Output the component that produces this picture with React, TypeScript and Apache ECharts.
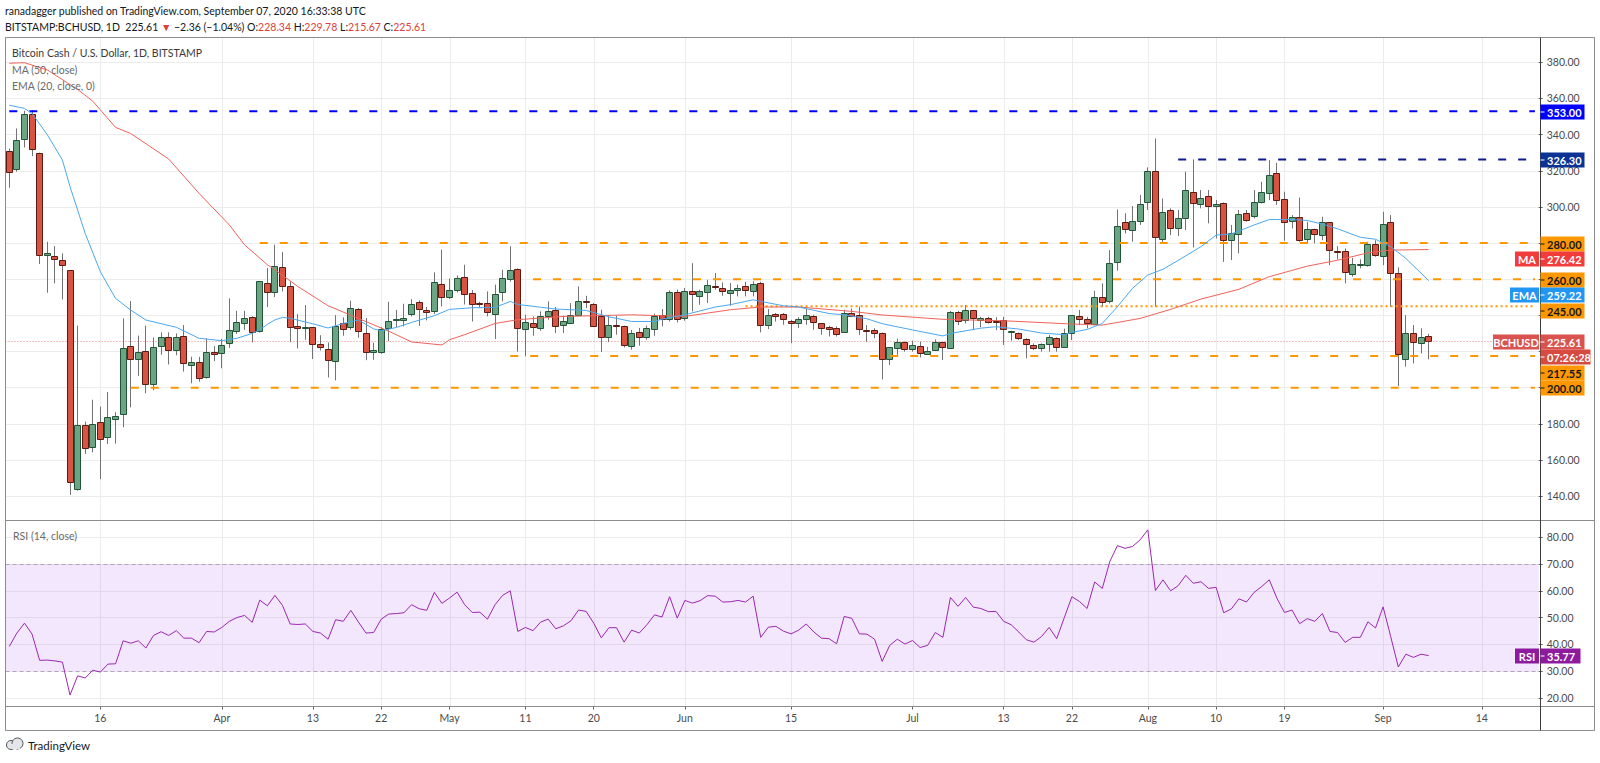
import React, { useEffect, useRef } from 'react';
import * as echarts from 'echarts';

// ---------- DATA ----------
const START_DATE = '2020-03-04';
const CATEGORY_COUNT = 202; // Mar 4 .. Sep 21 (empty future space on the right)

const opens = [
  330.9, 320.7, 337.5, 351.3, 329.6, 273.2, 272.6, 270.6, 264.9, 143.8,
  179.4, 167.0, 180.8, 172.5, 182.7, 185.4, 222.9, 215.7, 220.3, 202.0,
  222.7, 227.8, 220.8, 228.5, 213.0, 214.0, 205.7, 219.5, 218.7, 224.4,
  231.0, 235.8, 239.3, 231.1, 257.7, 253.2, 266.5, 256.2, 233.9, 233.3,
  233.3, 224.3, 221.3, 215.0, 235.7, 233.3, 243.5, 230.2, 219.7, 219.8,
  233.3, 237.6, 237.4, 240.7, 247.2, 243.1, 242.4, 257.3, 250.1, 254.2,
  261.2, 252.3, 246.9, 246.8, 240.7, 253.1, 260.3, 265.6, 232.9, 235.7,
  233.3, 239.8, 243.1, 234.6, 236.1, 240.3, 247.7, 246.2, 239.4, 228.0,
  234.6, 233.9, 223.2, 230.7, 227.8, 232.4, 240.3, 237.9, 252.9, 238.3,
  253.2, 250.5, 252.7, 256.4, 255.3, 252.3, 253.8, 256.4, 253.6, 257.7,
  234.2, 240.7, 240.7, 237.0, 235.7, 237.9, 239.4, 235.7, 233.3, 232.9,
  230.6, 241.5, 240.1, 232.0, 231.8, 230.4, 215.8, 222.3, 225.4, 221.2,
  223.2, 218.9, 220.8, 225.1, 222.3, 242.0, 237.4, 242.9, 237.0, 238.3,
  237.0, 237.4, 231.1, 230.0, 226.7, 223.6, 222.1, 224.0, 227.3, 222.1,
  230.0, 239.8, 237.9, 235.5, 250.3, 247.5, 269.6, 291.6, 287.2, 291.8,
  302.9, 319.9, 282.2, 298.3, 288.7, 293.7, 308.4, 301.9, 305.8, 300.1,
  302.0, 281.3, 285.0, 296.5, 294.6, 302.9, 307.5, 318.5, 304.3, 292.4,
  294.6, 282.2, 287.7, 284.4, 291.4, 275.4, 275.7, 262.7, 268.2, 267.8,
  279.4, 273.3, 291.8, 263.6, 215.8, 230.0, 224.8, 228.34,
];
const highs = [
  332.3, 343.4, 353.2, 353.5, 330.0, 280.7, 278.3, 274.3, 265.0, 234.3,
  181.2, 193.3, 189.5, 197.6, 186.4, 238.3, 247.9, 228.8, 234.3, 227.8,
  230.6, 230.6, 230.0, 234.6, 217.1, 217.0, 227.3, 223.0, 227.0, 249.4,
  242.5, 242.5, 239.5, 259.0, 266.2, 279.1, 275.0, 258.8, 240.7, 245.7,
  233.5, 229.0, 225.0, 240.1, 238.9, 248.1, 244.0, 238.5, 224.9, 233.5,
  247.5, 243.0, 246.4, 249.0, 248.3, 244.6, 263.8, 276.3, 260.4, 262.0,
  268.0, 254.0, 247.5, 253.2, 257.0, 265.2, 278.2, 266.0, 240.3, 239.4,
  242.2, 247.7, 244.6, 239.8, 246.8, 256.0, 250.8, 246.8, 243.1, 239.8,
  239.8, 234.3, 232.0, 233.0, 234.3, 240.9, 243.5, 253.8, 254.2, 255.1,
  268.9, 254.2, 259.7, 263.4, 258.2, 257.9, 257.0, 258.6, 258.8, 258.6,
  243.5, 241.3, 241.3, 237.5, 239.0, 243.5, 240.3, 235.8, 234.2, 233.9,
  243.1, 243.8, 244.8, 234.6, 232.8, 230.5, 222.3, 227.1, 225.5, 226.0,
  225.4, 222.6, 226.7, 225.1, 242.4, 242.4, 245.7, 243.0, 239.2, 239.2,
  239.0, 239.2, 231.5, 230.5, 227.3, 224.5, 224.5, 229.1, 227.8, 232.6,
  240.2, 243.0, 239.2, 253.6, 257.7, 276.1, 298.6, 296.5, 300.5, 306.6,
  321.9, 337.9, 304.7, 299.2, 298.3, 319.5, 326.3, 309.3, 309.3, 303.8,
  302.5, 290.0, 298.3, 298.3, 309.3, 313.9, 325.9, 324.4, 308.4, 295.5,
  305.2, 291.8, 288.0, 294.6, 291.6, 278.3, 277.0, 271.8, 271.0, 280.7,
  281.6, 297.3, 295.5, 266.6, 240.1, 234.6, 232.8, 229.78,
];
const lows = [
  310.6, 319.5, 332.9, 328.1, 268.4, 252.5, 257.7, 248.8, 140.6, 143.0,
  163.3, 164.2, 149.4, 168.8, 169.0, 178.1, 189.1, 206.5, 196.9, 198.6,
  218.2, 212.8, 217.9, 208.9, 202.4, 203.3, 205.0, 214.7, 210.7, 222.0,
  229.7, 232.0, 225.0, 230.5, 244.6, 250.1, 253.2, 225.2, 221.7, 226.5,
  215.8, 220.6, 205.6, 204.0, 228.7, 232.0, 227.6, 215.2, 215.4, 218.7,
  225.7, 233.5, 233.9, 239.4, 234.2, 237.2, 240.7, 244.9, 249.0, 252.7,
  246.0, 236.6, 244.0, 239.4, 226.9, 247.7, 258.6, 219.9, 217.3, 228.7,
  231.5, 237.6, 230.2, 230.2, 235.7, 239.8, 244.0, 233.5, 219.7, 225.2,
  229.3, 222.2, 221.0, 223.2, 226.5, 228.7, 233.9, 236.6, 236.1, 237.0,
  242.2, 245.8, 246.8, 254.2, 250.8, 245.3, 250.5, 250.5, 250.5, 230.6,
  232.4, 236.6, 234.8, 224.6, 233.0, 234.8, 232.0, 229.3, 228.3, 228.3,
  230.2, 239.2, 229.1, 225.4, 227.3, 204.5, 212.5, 218.1, 219.9, 219.9,
  216.7, 218.1, 220.8, 215.3, 221.7, 234.6, 235.5, 231.8, 233.4, 235.5,
  231.8, 223.6, 226.0, 226.3, 216.2, 220.8, 219.9, 219.9, 219.9, 222.1,
  226.3, 234.6, 232.8, 234.6, 244.7, 246.6, 264.7, 285.3, 280.7, 290.0,
  298.3, 244.7, 279.8, 284.4, 283.9, 287.2, 277.6, 299.2, 290.9, 282.6,
  269.6, 270.6, 274.3, 291.8, 293.7, 301.9, 303.8, 301.1, 281.3, 288.1,
  280.7, 279.8, 279.8, 281.6, 267.8, 270.9, 257.7, 261.4, 266.0, 266.9,
  272.4, 267.8, 244.7, 200.9, 211.6, 213.4, 218.9, 215.67,
];
const closes = [
  319.4, 337.0, 351.3, 331.8, 273.0, 274.3, 271.0, 267.8, 147.7, 179.4,
  166.5, 180.0, 171.6, 183.6, 184.2, 221.8, 215.7, 219.7, 202.0, 222.3,
  227.8, 220.8, 227.8, 213.5, 214.4, 205.2, 219.5, 218.3, 223.4, 231.7,
  236.1, 238.6, 231.1, 258.8, 252.7, 267.5, 256.0, 233.3, 232.8, 233.4,
  224.1, 222.4, 215.1, 234.2, 232.4, 244.0, 231.3, 219.5, 220.6, 232.4,
  237.0, 237.9, 238.3, 246.2, 243.1, 242.0, 258.2, 250.1, 254.2, 260.6,
  252.0, 246.2, 246.7, 241.6, 252.0, 260.6, 265.2, 232.9, 236.5, 233.5,
  239.8, 242.6, 234.2, 237.0, 240.3, 247.9, 247.1, 234.2, 228.0, 234.4,
  234.2, 223.2, 230.2, 228.0, 233.0, 239.4, 238.3, 252.9, 237.9, 253.2,
  251.4, 253.2, 256.8, 256.2, 253.6, 253.8, 254.9, 254.2, 257.3, 234.2,
  240.0, 239.8, 237.9, 235.7, 237.9, 240.3, 236.1, 233.0, 232.4, 229.8,
  241.3, 240.1, 232.4, 231.5, 230.0, 215.8, 222.3, 225.4, 221.4, 223.6,
  219.3, 220.4, 225.1, 222.3, 242.0, 237.0, 242.9, 238.3, 238.3, 235.9,
  236.7, 232.2, 231.2, 227.3, 224.0, 222.1, 224.1, 227.8, 222.1, 230.0,
  240.0, 237.9, 235.5, 250.3, 247.5, 268.7, 289.4, 287.7, 292.2, 301.4,
  319.9, 283.5, 297.0, 288.1, 294.1, 309.3, 302.5, 305.2, 300.1, 301.4,
  281.6, 285.3, 296.1, 292.4, 302.5, 308.4, 317.6, 303.8, 291.8, 294.6,
  282.0, 287.7, 284.8, 291.4, 275.7, 275.2, 264.1, 268.2, 268.4, 279.4,
  273.3, 290.8, 263.6, 218.6, 230.4, 224.8, 227.97, 225.61,
];

// MA(50) and EMA(20): [day index, value]
const ma50Points = [
  [0, 379.5], [2, 379.8], [5, 375.8], [9, 365.0], [11, 358.5], [14, 344.0], [16, 340.6],
  [21, 326.5], [25, 307.5], [29, 290.0], [31, 279.0], [34, 268.0], [35, 265.2], [38, 256.0],
  [42, 245.3], [46, 238.3], [50, 231.2], [53, 225.3], [57, 223.6], [58, 226.5], [60, 229.3],
  [64, 235.5], [67, 237.6], [73, 239.4], [82, 240.3], [89, 239.4], [95, 243.1], [99, 244.6],
  [104, 244.6], [111, 242.2], [115, 240.2], [123, 237.8], [131, 237.0], [140, 235.2],
  [144, 234.6], [149, 238.3], [153, 243.3], [157, 249.0], [162, 254.4], [166, 261.4],
  [171, 267.2], [175, 270.5], [179, 274.6], [182, 276.1], [187, 276.42],
];
const ema20Points = [
  [0, 356.3], [2, 354.5], [3, 351.7], [5, 340.0], [7, 325.9], [8, 311.2], [10, 285.3],
  [12, 264.1], [14, 249.4], [16, 242.9], [18, 237.4], [22, 233.4], [25, 227.3], [28, 226.0],
  [30, 227.3], [32, 230.0], [33, 232.0], [34, 235.0], [35, 237.5], [36, 238.9], [37, 238.4],
  [40, 235.3], [42, 233.0], [44, 235.5], [46, 237.4], [48, 232.5], [49, 231.5], [51, 233.3],
  [53, 236.1], [56, 239.8], [58, 243.3], [61, 244.2], [64, 244.4], [66, 247.7], [67, 246.0],
  [70, 244.5], [72, 243.5], [76, 242.7], [79, 239.2], [82, 236.6], [85, 236.6], [86, 237.9],
  [89, 240.3], [93, 244.6], [95, 245.9], [98, 248.6], [99, 247.7], [102, 245.3], [104, 244.6],
  [108, 241.0], [110, 240.3], [113, 238.1], [115, 235.4], [119, 231.9], [123, 228.6],
  [124, 230.0], [128, 232.9], [130, 233.7], [133, 232.4], [136, 230.2], [139, 229.3],
  [140, 230.6], [142, 232.2], [144, 235.5], [146, 244.8], [148, 255.0], [150, 262.3],
  [152, 265.5], [154, 270.4], [157, 278.0], [159, 284.4], [161, 285.0], [164, 290.0],
  [166, 293.0], [169, 293.0], [171, 292.5], [173, 290.5], [175, 287.9], [178, 283.2],
  [180, 282.1], [182, 278.0], [184, 271.5], [187, 259.22],
];

const rsiValues = [
  39.2, 44.2, 47.9, 43.8, 34.0, 34.1, 33.8, 33.3, 21.0, 28.2,
  27.4, 30.3, 29.6, 32.6, 32.7, 41.3, 40.4, 41.3, 38.6, 43.3,
  44.7, 43.3, 45.1, 42.3, 42.3, 40.6, 44.8, 44.6, 46.3, 48.6,
  50.0, 50.8, 48.2, 56.5, 54.4, 58.3, 54.5, 47.6, 47.4, 47.6,
  44.8, 44.2, 41.9, 49.2, 48.6, 52.7, 48.3, 44.2, 44.4, 49.4,
  51.3, 51.5, 51.8, 54.8, 53.3, 52.7, 59.4, 55.3, 57.3, 59.5,
  54.8, 51.9, 52.0, 49.4, 54.8, 58.3, 60.0, 44.8, 46.3, 45.1,
  48.3, 49.4, 45.8, 46.9, 48.8, 52.8, 52.3, 47.9, 42.4, 46.2,
  46.2, 40.8, 45.3, 44.2, 47.3, 51.0, 50.2, 57.8, 49.8, 56.4,
  55.4, 56.3, 58.2, 58.0, 55.8, 55.9, 56.4, 55.8, 58.0, 42.6,
  46.4, 46.7, 44.9, 43.9, 45.3, 47.6, 44.6, 42.3, 42.1, 40.2,
  50.4, 49.7, 43.9, 43.8, 41.9, 33.6, 39.6, 41.9, 40.1, 41.4,
  38.8, 39.6, 44.4, 42.6, 57.5, 54.2, 57.5, 53.9, 53.4, 52.2,
  52.3, 48.6, 47.3, 44.6, 41.7, 40.8, 42.9, 46.3, 42.1, 50.0,
  57.8, 56.0, 53.4, 63.3, 60.9, 71.0, 76.9, 75.9, 76.6, 79.1,
  82.8, 60.1, 64.1, 60.0, 61.9, 65.8, 62.8, 63.4, 60.9, 61.3,
  51.8, 53.2, 57.0, 55.8, 59.4, 61.6, 64.1, 57.3, 51.9, 52.8,
  47.7, 49.6, 48.6, 51.5, 44.8, 44.4, 40.7, 42.6, 42.6, 48.4,
  46.1, 54.0, 42.9, 31.5, 36.3, 35.1, 36.3, 35.77,
];

const xTicks = [
  ['2020-03-16', '16'], ['2020-04-01', 'Apr'], ['2020-04-13', '13'], ['2020-04-22', '22'],
  ['2020-05-01', 'May'], ['2020-05-11', '11'], ['2020-05-20', '20'], ['2020-06-01', 'Jun'],
  ['2020-06-15', '15'], ['2020-07-01', 'Jul'], ['2020-07-13', '13'], ['2020-07-22', '22'],
  ['2020-08-01', 'Aug'], ['2020-08-10', '10'], ['2020-08-19', '19'], ['2020-09-01', 'Sep'],
  ['2020-09-14', '14'],
];

const PRICE_MIN = 120;
const PRICE_MAX = 400;
const PRICE_STEP = 20;
const RSI_MIN = 10;
const RSI_MAX = 90;
const RSI_STEP = 10;
const RSI_BAND = [30, 70];

// horizontal levels drawn by the author
const levelValues = [353, 326.3, 280, 260, 245, 217.55, 200];
const levelStarts = ['2020-03-04', '2020-08-05', '2020-04-06', '2020-05-12', '2020-06-09', '2020-05-09', '2020-03-20'];
const levelKinds = ['blue', 'navy', 'orange', 'orange', 'dotted', 'orange', 'orange'];

const COUNTDOWN = '07:26:28';

// ---------- STYLE ----------
const FONT = 'Lato, "Open Sans", "Noto Sans", sans-serif';
const ORANGE = '#ff9800';
const LEVEL_STYLE: Record<string, any> = {
  blue: { color: '#0000ff', type: [8, 12], width: 2, bg: '#0000ff', fg: '#ffffff' },
  navy: { color: '#0d1b8c', type: [8, 12], width: 2, bg: '#0c3394', fg: '#ffffff' },
  orange: { color: ORANGE, type: [8, 12], width: 2, bg: ORANGE, fg: '#131722' },
  dotted: { color: ORANGE, type: [2, 3], width: 2, bg: ORANGE, fg: '#131722' },
};

function dateAt(i: number): string {
  const d = new Date(START_DATE + 'T00:00:00Z');
  d.setUTCDate(d.getUTCDate() + i);
  return d.toISOString().slice(0, 10);
}

export default function App() {
  const ref = useRef<HTMLDivElement>(null);

  useEffect(() => {
    document.body.style.margin = '0';
    const chart = echarts.init(ref.current!, null, { renderer: 'svg' });

    const categories = Array.from({ length: CATEGORY_COUNT }, (_, i) => dateAt(i));
    const tickMap = new Map(xTicks.map(([d, l]) => [d, l]));
    const catIndex = (d: string) => categories.indexOf(d);
    const lastIdx = CATEGORY_COUNT - 1;

    const candles = closes.map((c, i) => [i, opens[i], c, lows[i], highs[i]]);
    const lastClose = closes[closes.length - 1];
    const lastMa = ma50Points[ma50Points.length - 1][1];
    const lastEma = ema20Points[ema20Points.length - 1][1];
    const lastRsi = rsiValues[rsiValues.length - 1];

    const levelSeries = levelValues.map((v, k) => {
      const st = LEVEL_STYLE[levelKinds[k]];
      return {
        type: 'line',
        xAxisIndex: 0,
        yAxisIndex: 0,
        silent: true,
        symbol: 'none',
        z: 4,
        data: [[catIndex(levelStarts[k]), v], [lastIdx, v]],
        lineStyle: { color: st.color, width: st.width, type: st.type },
      };
    });

    const axisLabelStyle = { color: '#4a4a4a', fontSize: 10.5, fontFamily: FONT };

    const option: any = {
      animation: false,
      backgroundColor: '#ffffff',
      textStyle: { fontFamily: FONT },
      grid: [
        { left: 5.5, top: 26.2, width: 1533.2, height: 506 },
        { left: 5.5, top: 510.6, width: 1533.2, height: 213.9 },
      ],
      xAxis: [
        {
          type: 'category', gridIndex: 0, data: categories, boundaryGap: true,
          axisLine: { show: false }, axisTick: { show: false }, axisLabel: { show: false },
          splitLine: { show: false },
        },
        {
          type: 'category', gridIndex: 1, data: categories, boundaryGap: true, offset: -18,
          axisLine: { show: false },
          axisTick: {
            show: true, alignWithLabel: true, length: 3,
            interval: (_: number, v: string) => tickMap.has(v),
            lineStyle: { color: '#666' },
          },
          axisLabel: {
            ...axisLabelStyle, margin: 6,
            interval: (_: number, v: string) => tickMap.has(v),
            formatter: (v: string) => tickMap.get(v) || '',
          },
          splitLine: { show: false },
        },
      ],
      yAxis: [
        {
          type: 'value', gridIndex: 0, position: 'right', min: PRICE_MIN, max: PRICE_MAX, interval: PRICE_STEP,
          axisLine: { show: false },
          axisTick: { show: true, length: 4, lineStyle: { color: '#666' } },
          axisLabel: { ...axisLabelStyle, margin: 8, showMinLabel: false, showMaxLabel: false, formatter: (v: number) => v.toFixed(2) },
          splitLine: { show: true, showMinLine: false, showMaxLine: false, lineStyle: { color: '#ececec', width: 1 } },
        },
        {
          type: 'value', gridIndex: 1, position: 'right', min: RSI_MIN, max: RSI_MAX, interval: RSI_STEP,
          axisLine: { show: false },
          axisTick: { show: true, length: 4, lineStyle: { color: '#666' } },
          axisLabel: { ...axisLabelStyle, margin: 8, showMinLabel: false, showMaxLabel: false, formatter: (v: number) => v.toFixed(2) },
          splitLine: { show: true, showMinLine: false, showMaxLine: false, lineStyle: { color: '#ececec', width: 1 } },
        },
      ],
      series: [
        {
          type: 'custom',
          xAxisIndex: 0,
          yAxisIndex: 0,
          z: 3,
          encode: { x: 0, y: [1, 2, 3, 4] },
          data: candles,
          renderItem: (_params: any, api: any) => {
            const i = api.value(0);
            const o = api.value(1);
            const c = api.value(2);
            const l = api.value(3);
            const h = api.value(4);
            const pO = api.coord([i, o]);
            const yC = api.coord([i, c])[1];
            const yL = api.coord([i, l])[1];
            const yH = api.coord([i, h])[1];
            const up = c >= o;
            const xr = Math.floor(pO[0]) + 0.5;
            const top = Math.round(Math.min(pO[1], yC)) + 0.5;
            const bh = Math.max(1, Math.round(Math.abs(pO[1] - yC)));
            return {
              type: 'group',
              children: [
                { type: 'line', shape: { x1: xr, y1: yH, x2: xr, y2: yL }, style: { stroke: '#737375', lineWidth: 1 } },
                {
                  type: 'rect',
                  shape: { x: xr - 3, y: top, width: 6, height: bh },
                  style: { fill: up ? '#6ba583' : '#d75442', stroke: up ? '#225437' : '#5b1a13', lineWidth: 1 },
                },
              ],
            };
          },
        },
        {
          type: 'line', xAxisIndex: 0, yAxisIndex: 0, symbol: 'none', silent: true, z: 5,
          data: ma50Points,
          lineStyle: { color: '#f0625a', width: 1 },
          markLine: {
            silent: true, symbol: 'none', label: { show: false },
            data: [
              { yAxis: lastClose, lineStyle: { color: 'rgba(217,83,79,0.7)', width: 1, type: [1, 2] } },
            ],
          },
        },
        {
          type: 'line', xAxisIndex: 0, yAxisIndex: 0, symbol: 'none', silent: true, z: 5,
          data: ema20Points,
          lineStyle: { color: '#4aa8f0', width: 1 },
        },
        ...levelSeries,
        {
          type: 'line', xAxisIndex: 1, yAxisIndex: 1, symbol: 'none', silent: true, z: 5,
          data: rsiValues.map((v, i) => [i, v]),
          lineStyle: { color: '#9c27b0', width: 1 },
          markArea: {
            silent: true,
            itemStyle: { color: 'rgba(150,60,230,0.12)' },
            data: [[{ yAxis: RSI_BAND[0] }, { yAxis: RSI_BAND[1] }]],
          },
          markLine: {
            silent: true, symbol: 'none', label: { show: false },
            lineStyle: { color: '#b3a3bd', width: 1, type: [4, 3] },
            data: [{ yAxis: RSI_BAND[1] }, { yAxis: RSI_BAND[0] }],
          },
        },
      ],
    };

    chart.setOption(option);

    // ---------- overlay: frame, grid lines, labels ----------
    const L = 5.5, R = 1594.5, T = 37.5, B = 730.5, AX = 1540.5, SEP = 520.5, RB = 706.5;
    const els: any[] = [];
    const frameColor = '#8c8c8c';
    const hline = (y: number, x1: number, x2: number, color: string, z = 30) =>
      els.push({ type: 'line', silent: true, z, shape: { x1, y1: y, x2, y2: y }, style: { stroke: color, lineWidth: 1 } });
    const vline = (x: number, y1: number, y2: number, color: string, z = 30) =>
      els.push({ type: 'line', silent: true, z, shape: { x1: x, y1, x2: x, y2 }, style: { stroke: color, lineWidth: 1 } });

    // vertical grid lines at labelled dates
    xTicks.forEach(([d]) => {
      const x = Math.round(chart.convertToPixel({ xAxisIndex: 0 }, d) as number) + 0.5;
      vline(x, T, RB, '#ececec', 0);
    });

    hline(T, L, R, frameColor);
    hline(B, L, R, frameColor);
    hline(SEP, L, R, frameColor);
    hline(RB, L, R, frameColor);
    vline(L, T, B, frameColor);
    vline(R, T, B, frameColor);
    vline(AX, T, B, '#3c3c3c');

    const text = (t: string, x: number, y: number, size: number, color: string, weight: any = 'normal', z = 40) =>
      els.push({
        type: 'text', silent: true, z,
        style: { text: t, x, y, fill: color, fontSize: size, fontFamily: FONT, fontWeight: weight, verticalAlign: 'middle', align: 'left' },
      });

    text('ranadagger published on TradingView.com, September 07, 2020 16:33:38 UTC', 5, 11, 10.5, '#131722');
    const red = '#e0403a';
    els.push({
      type: 'text', silent: true, z: 40,
      style: {
        x: 5, y: 27, verticalAlign: 'middle', fontFamily: FONT, fontSize: 10.5,
        text: `{d|BITSTAMP:BCHUSD, 1D  ${lastClose.toFixed(2)} }{r|▼}{d| −2.36 (−1.04%) O:}{r|${opens[opens.length - 1].toFixed(2)}}{d| H:}{r|${highs[highs.length - 1].toFixed(2)}}{d| L:}{r|${lows[lows.length - 1].toFixed(2)}}{d| C:}{r|${lastClose.toFixed(2)}}`,
        rich: {
          d: { fill: '#131722', fontSize: 10.5, fontFamily: FONT },
          r: { fill: red, fontSize: 10.5, fontFamily: FONT },
        },
      },
    });
    text('Bitcoin Cash / U.S. Dollar, 1D, BITSTAMP', 12, 53, 10.5, '#3a3a3a');
    text('MA (50, close)', 12, 69.5, 10.5, '#6a6a6a');
    text('EMA (20, close, 0)', 12, 85.5, 10.5, '#6a6a6a');
    text('RSI (14, close)', 13, 535.5, 10.5, '#6a6a6a');

    // TradingView logo (bottom-left)
    els.push({ type: 'circle', silent: true, z: 40, shape: { cx: 11, cy: 745, r: 4.5 }, style: { fill: '#e3e5e8', stroke: '#50535e', lineWidth: 1 } });
    els.push({ type: 'circle', silent: true, z: 41, shape: { cx: 17.5, cy: 743.5, r: 5.5 }, style: { fill: '#e3e5e8', stroke: '#50535e', lineWidth: 1 } });
    els.push({ type: 'rect', silent: true, z: 42, shape: { x: 10, y: 744, width: 10, height: 5 }, style: { fill: '#e3e5e8' } });
    text('TradingView', 28, 745.5, 11.5, '#131722', 'normal');

    // right-side price labels with overlap avoidance
    const py = (v: number) => chart.convertToPixel({ yAxisIndex: 0 }, v) as number;
    type Lab = { v: number; txt: string; bg: string; fg: string; w: number; tag?: string; tagW?: number; dy?: number };
    const labs: Lab[] = [];
    levelValues.forEach((v, k) => {
      const st = LEVEL_STYLE[levelKinds[k]];
      labs.push({ v, txt: v.toFixed(2), bg: st.bg, fg: st.fg, w: 44 });
    });
    labs.push({ v: lastMa, txt: lastMa.toFixed(2), bg: '#f23b3b', fg: '#fff', w: 44, tag: 'MA', tagW: 24 });
    labs.push({ v: lastEma, txt: lastEma.toFixed(2), bg: '#2196f3', fg: '#fff', w: 44, tag: 'EMA', tagW: 29 });
    labs.push({ v: lastClose, txt: lastClose.toFixed(2), bg: '#d9534f', fg: '#fff', w: 44, tag: 'BCHUSD', tagW: 46 });
    labs.push({ v: lastClose, txt: COUNTDOWN, bg: '#d64a3f', fg: '#fff', w: 50, dy: 0.01 });
    labs.sort((a, b) => py(a.v) + (a.dy || 0) - (py(b.v) + (b.dy || 0)));
    const H = 15;
    let prev = -1e9;
    const boxCenters: number[] = [];
    labs.forEach((lb) => {
      const want = py(lb.v);
      const y = Math.max(want, prev + H + 0.5);
      prev = y;
      boxCenters.push(y);
      const top = Math.round(y - H / 2) + 0.5;
      els.push({ type: 'rect', silent: true, z: 50, shape: { x: AX, y: top, width: lb.w, height: H }, style: { fill: lb.bg } });
      els.push({ type: 'line', silent: true, z: 51, shape: { x1: AX, y1: top + H / 2, x2: AX + 4, y2: top + H / 2 }, style: { stroke: lb.fg, lineWidth: 1 } });
      els.push({
        type: 'text', silent: true, z: 52,
        style: { text: lb.txt, x: AX + 6.5, y: top + H / 2 + 0.5, fill: lb.fg, fontSize: 11, fontWeight: 'bold', fontFamily: FONT, verticalAlign: 'middle', align: 'left' },
      });
      if (lb.tag) {
        const tw = lb.tagW || 24;
        els.push({ type: 'rect', silent: true, z: 50, shape: { x: AX - 1.5 - tw, y: top, width: tw, height: H }, style: { fill: lb.bg } });
        els.push({
          type: 'text', silent: true, z: 52,
          style: { text: lb.tag, x: AX - 1.5 - tw / 2, y: top + H / 2 + 0.5, fill: lb.fg, fontSize: 11, fontWeight: 'bold', fontFamily: FONT, verticalAlign: 'middle', align: 'center' },
        });
      }
    });

    // axis labels hidden behind the coloured boxes (as in the reference)
    const coveredPrice = (v: number) => boxCenters.some((c) => Math.abs(py(v) - c) < 10);

    // RSI label
    const ryy = (v: number) => chart.convertToPixel({ yAxisIndex: 1 }, v) as number;
    const ry = ryy(lastRsi);
    const rtop = Math.round(ry - H / 2) + 0.5;
    const coveredRsi = (v: number) => Math.abs(ryy(v) - ry) < 10;
    const purple = '#8e1a9e';
    els.push({ type: 'rect', silent: true, z: 50, shape: { x: AX, y: rtop, width: 40, height: H }, style: { fill: purple } });
    els.push({ type: 'line', silent: true, z: 51, shape: { x1: AX, y1: rtop + H / 2, x2: AX + 4, y2: rtop + H / 2 }, style: { stroke: '#fff', lineWidth: 1 } });
    els.push({
      type: 'text', silent: true, z: 52,
      style: { text: lastRsi.toFixed(2), x: AX + 6.5, y: rtop + H / 2 + 0.5, fill: '#fff', fontSize: 11, fontWeight: 'bold', fontFamily: FONT, verticalAlign: 'middle', align: 'left' },
    });
    els.push({ type: 'rect', silent: true, z: 50, shape: { x: AX - 25.5, y: rtop, width: 24, height: H }, style: { fill: purple } });
    els.push({
      type: 'text', silent: true, z: 52,
      style: { text: 'RSI', x: AX - 13.5, y: rtop + H / 2 + 0.5, fill: '#fff', fontSize: 11, fontWeight: 'bold', fontFamily: FONT, verticalAlign: 'middle', align: 'center' },
    });

    chart.setOption({
      yAxis: [
        { axisLabel: { formatter: (v: number) => (coveredPrice(v) ? '' : v.toFixed(2)) } },
        { axisLabel: { formatter: (v: number) => (coveredRsi(v) ? '' : v.toFixed(2)) } },
      ],
      graphic: { elements: els },
    });

    return () => chart.dispose();
  }, []);

  return <div ref={ref} style={{ width: 1600, height: 763, background: '#ffffff' }} />;
}
